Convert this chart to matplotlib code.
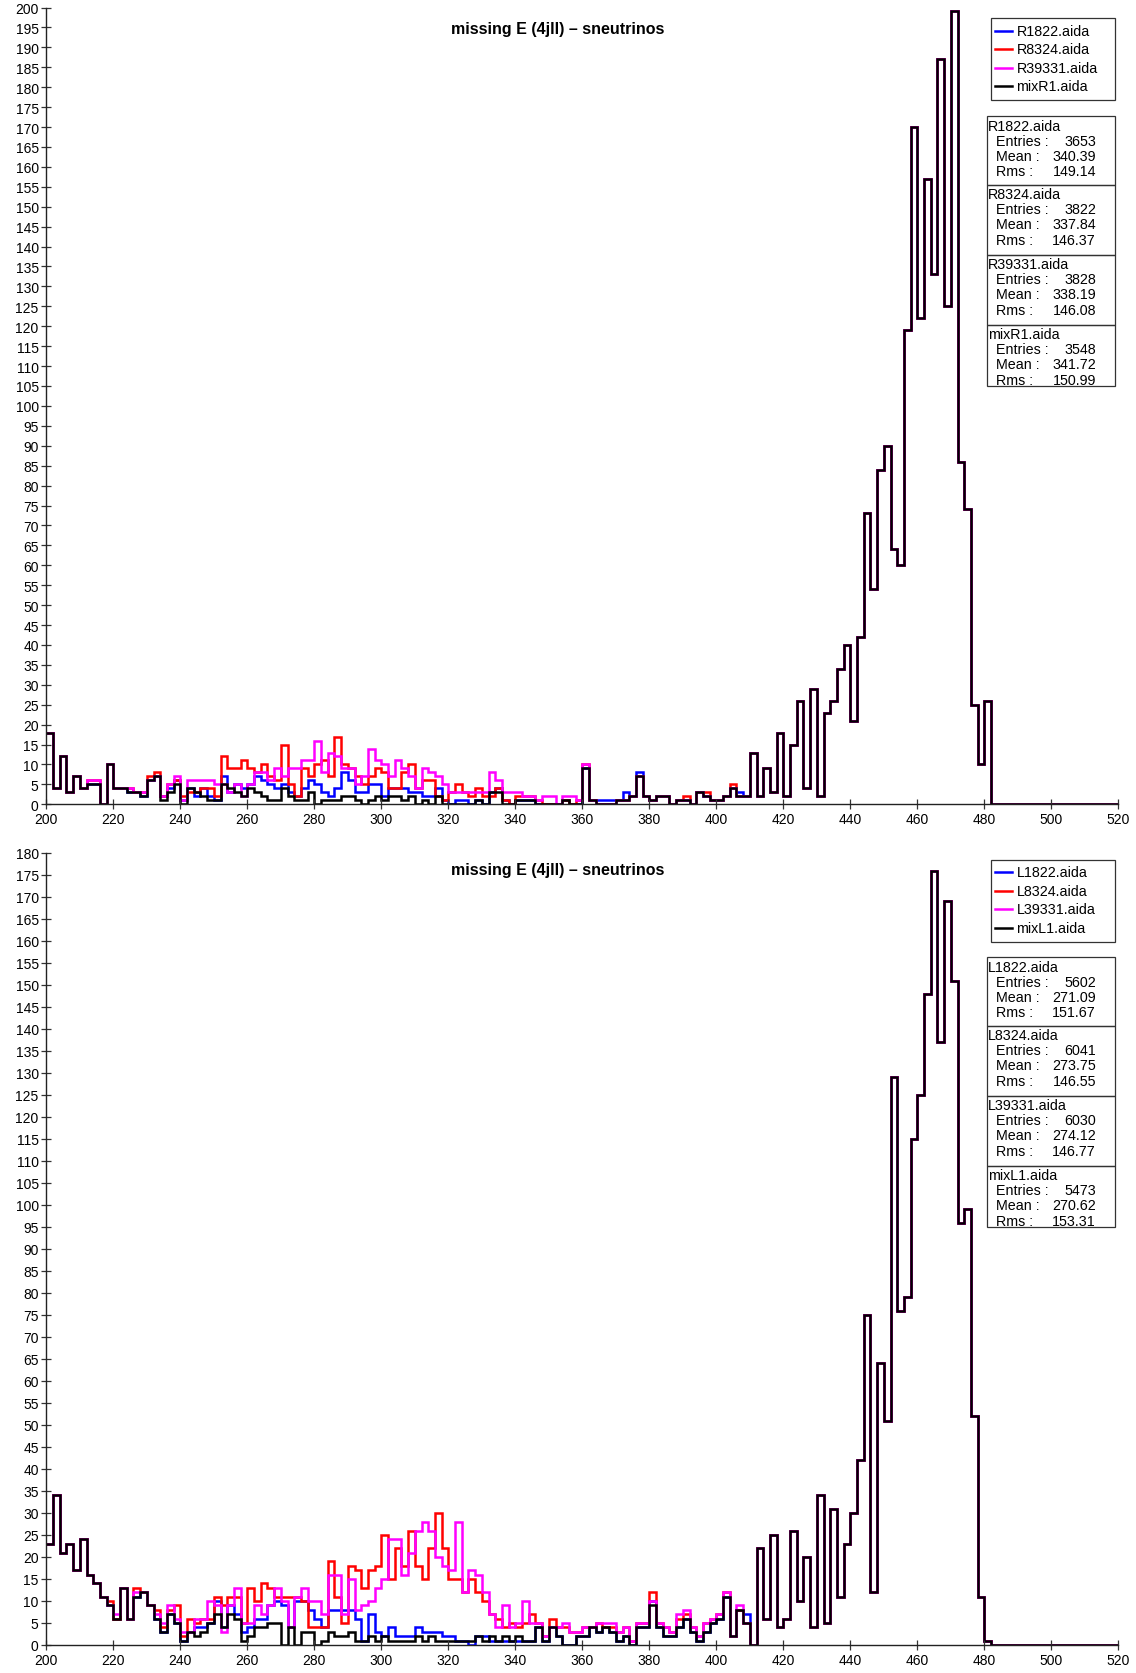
import matplotlib
matplotlib.use("Agg")
import numpy as np
import matplotlib.pyplot as plt
from matplotlib.patches import Rectangle
from matplotlib.lines import Line2D

plt.rcParams["font.family"] = ["Liberation Sans", "DejaVu Sans"]

BIN_EDGES = np.arange(200, 522, 2)  # 2-unit bins from 200 to 520
ZERO_TAIL = [0] * 19                # bins 482..520 are empty

# ---------------- top panel (R samples), bins 200..408 ----------------
top_black = [18, 4, 12, 3, 7, 4, 5, 5, 0, 10, 4, 4, 3, 3, 2, 6, 7, 1, 3, 5,
             0, 4, 3, 2, 1, 1, 5, 4, 3, 2, 4, 3, 2, 1, 1, 4, 2, 1, 1, 3,
             0, 1, 1, 1, 2, 2, 1, 0, 1, 2, 1, 2, 2, 1, 2, 0, 1, 0, 2, 0,
             0, 0, 0, 0, 1, 0, 3, 3, 0, 0, 1, 1, 1, 0, 0, 0, 0, 1, 0, 0,
             9, 1, 0, 0, 0, 1, 1, 2, 7, 2, 1, 2, 2, 0, 1, 1, 0, 3, 2, 1,
             1, 2, 4, 2, 2]
top_blue = [18, 4, 12, 3, 7, 4, 5, 5, 0, 10, 4, 4, 3, 3, 2, 6, 7, 2, 4, 6,
            1, 4, 2, 4, 2, 1, 7, 3, 5, 4, 5, 7, 6, 5, 4, 5, 3, 2, 4, 6,
            5, 3, 2, 4, 8, 6, 3, 3, 5, 5, 2, 4, 4, 4, 3, 3, 2, 2, 4, 1,
            0, 1, 1, 0, 1, 0, 3, 4, 1, 0, 1, 1, 1, 0, 0, 0, 0, 1, 0, 0,
            9, 1, 1, 1, 1, 1, 3, 2, 8, 2, 1, 2, 2, 0, 1, 1, 0, 3, 2, 1,
            1, 2, 4, 3, 2]
top_red = [18, 4, 12, 3, 7, 4, 6, 6, 0, 10, 4, 4, 4, 3, 3, 7, 8, 2, 5, 6,
           2, 3, 3, 4, 4, 2, 12, 9, 9, 11, 9, 8, 10, 7, 6, 15, 5, 2, 9, 7,
           10, 11, 7, 17, 10, 9, 7, 5, 7, 9, 8, 4, 4, 8, 10, 4, 6, 6, 2, 1,
           3, 5, 3, 2, 4, 2, 2, 4, 1, 0, 2, 2, 2, 1, 0, 0, 0, 1, 0, 1,
           10, 1, 0, 0, 0, 1, 1, 2, 7, 2, 1, 2, 2, 0, 1, 2, 0, 3, 3, 1,
           1, 2, 5, 2, 2]
top_magenta = [18, 4, 12, 3, 7, 4, 6, 6, 0, 10, 4, 4, 4, 3, 3, 6, 7, 2, 5, 7,
               1, 6, 6, 6, 6, 5, 5, 3, 5, 2, 5, 8, 8, 6, 9, 7, 9, 9, 11, 11,
               16, 8, 13, 12, 9, 9, 5, 7, 14, 11, 10, 7, 11, 9, 7, 4, 9, 8, 7, 5,
               3, 3, 3, 3, 3, 3, 8, 6, 3, 3, 3, 2, 2, 1, 2, 2, 0, 2, 2, 1,
               10, 1, 0, 0, 0, 1, 1, 2, 7, 2, 1, 2, 2, 0, 1, 1, 0, 3, 2, 1,
               1, 2, 4, 2, 2]
# shared peak, bins 410..480
top_peak = [13, 2, 9, 3, 18, 2, 15, 26, 4, 29, 2, 23, 26, 34, 40, 21, 42, 73,
            54, 84, 90, 64, 60, 119, 170, 122, 157, 133, 187, 125, 199, 86, 74,
            25, 10, 26]

# ---------------- bottom panel (L samples), bins 200..408 ----------------
bot_black = [23, 34, 21, 23, 17, 24, 16, 14, 11, 9, 6, 13, 6, 11, 12, 9, 6, 3, 7, 5,
             1, 3, 2, 3, 5, 7, 4, 7, 6, 1, 2, 4, 4, 5, 5, 0, 4, 0, 3, 3,
             0, 1, 3, 2, 2, 3, 1, 1, 2, 1, 2, 1, 1, 1, 1, 2, 1, 2, 1, 1,
             1, 1, 1, 1, 2, 1, 2, 1, 2, 1, 2, 1, 1, 4, 1, 4, 2, 0, 0, 2,
             2, 4, 3, 4, 3, 1, 2, 0, 4, 4, 9, 4, 2, 2, 4, 6, 3, 1, 3, 5,
             6, 11, 2, 8, 5]
bot_blue = [23, 34, 21, 23, 17, 24, 16, 14, 11, 9, 6, 13, 6, 11, 12, 9, 6, 3, 7, 5,
            1, 3, 4, 4, 5, 10, 4, 9, 7, 3, 4, 6, 6, 9, 10, 9, 4, 10, 10, 8,
            6, 4, 8, 8, 8, 8, 6, 1, 7, 3, 2, 4, 2, 2, 2, 4, 3, 3, 3, 2,
            2, 1, 1, 0, 2, 2, 1, 1, 1, 1, 1, 1, 1, 4, 1, 4, 2, 0, 0, 2,
            2, 4, 3, 4, 3, 1, 2, 0, 4, 4, 10, 4, 2, 2, 4, 6, 3, 1, 3, 5,
            6, 11, 2, 8, 7]
bot_red = [23, 34, 21, 23, 17, 24, 16, 14, 11, 10, 6, 13, 6, 13, 12, 9, 8, 4, 8, 9,
           2, 6, 5, 6, 6, 11, 9, 11, 11, 5, 13, 10, 14, 13, 11, 11, 11, 11, 10, 4,
           4, 4, 19, 11, 5, 18, 17, 13, 17, 18, 25, 15, 22, 18, 26, 18, 15, 22, 30, 22,
           15, 15, 12, 15, 12, 10, 7, 6, 4, 5, 4, 5, 7, 5, 2, 6, 4, 4, 3, 3,
           4, 4, 5, 4, 4, 3, 4, 1, 5, 5, 12, 5, 4, 3, 6, 7, 4, 2, 5, 6,
           7, 12, 2, 8, 5]
bot_magenta = [23, 34, 21, 23, 17, 24, 16, 14, 11, 9, 7, 13, 6, 12, 12, 9, 7, 5, 9, 6,
               3, 3, 6, 6, 10, 9, 3, 9, 13, 5, 5, 9, 7, 9, 13, 10, 4, 11, 13, 10,
               10, 7, 16, 16, 7, 15, 8, 9, 10, 13, 15, 24, 24, 16, 21, 26, 28, 26, 20, 18,
               17, 28, 12, 17, 16, 12, 7, 4, 9, 4, 5, 10, 5, 5, 2, 4, 4, 5, 3, 3,
               4, 4, 5, 5, 5, 3, 4, 1, 5, 5, 10, 5, 4, 3, 7, 8, 4, 2, 5, 6,
               7, 12, 2, 9, 5]
bot_peak = [0, 22, 6, 25, 4, 6, 26, 10, 20, 4, 34, 5, 31, 11, 23, 30, 42, 75,
            12, 64, 51, 129, 76, 79, 115, 125, 148, 176, 137, 169, 151, 96, 99,
            52, 11, 1]

TITLE = "missing E (4jll) \u2013 sneutrinos"
SERIES_COLORS = ["#0000ff", "#ff0000", "#ff00ff", "#000000"]
top_names = ["R1822.aida", "R8324.aida", "R39331.aida", "mixR1.aida"]
top_entries = ["3653", "3822", "3828", "3548"]
top_means = ["340.39", "337.84", "338.19", "341.72"]
top_rms = ["149.14", "146.37", "146.08", "150.99"]
bot_names = ["L1822.aida", "L8324.aida", "L39331.aida", "mixL1.aida"]
bot_entries = ["5602", "6041", "6030", "5473"]
bot_means = ["271.09", "273.75", "274.12", "270.62"]
bot_rms = ["151.67", "146.55", "146.77", "153.31"]

W, H = 1136, 1674
BOX_FS = 10.3
fig = plt.figure(figsize=(W / 100, H / 100), dpi=100)


def px(x, y):
    """pixel (from top-left) -> inches for fig.dpi_scale_trans"""
    return x / 100.0, (H - y) / 100.0


def draw_panel(rect, series, peak, ymax, title_y, legend_top, stats_top,
               names, entries, means, rms):
    ax = fig.add_axes(rect)
    for low, color in zip(series, SERIES_COLORS):
        counts = np.array(low + peak + ZERO_TAIL, dtype=float)
        ax.stairs(counts, BIN_EDGES, baseline=None, color=color, lw=1.8)
    ax.set_xlim(200, 520)
    ax.set_ylim(0, ymax)
    ax.set_xticks(np.arange(200, 521, 20))
    ax.set_yticks(np.arange(0, ymax + 1, 5))
    for s in ("top", "right"):
        ax.spines[s].set_visible(False)
    for s in ("left", "bottom"):
        ax.spines[s].set_linewidth(1.0)
        ax.spines[s].set_color("#222222")
    ax.tick_params(direction="inout", length=7, width=0.9, color="#333333",
                   labelsize=10, pad=2)
    ax.patch.set_visible(False)

    tr = fig.dpi_scale_trans
    fig.text(*px(558, title_y), TITLE, transform=tr, ha="center", va="center",
             fontsize=11.5, fontweight="bold")

    # legend box
    lx0, lx1 = 991, 1114.5
    lh = 81.5
    fig.add_artist(Rectangle(px(lx0, legend_top + lh), (lx1 - lx0) / 100, lh / 100,
                             transform=tr, fill=False, lw=0.9, ec="#333333"))
    for i, (nm, c) in enumerate(zip(names, SERIES_COLORS)):
        yy = legend_top + 12.5 + 18.4 * i
        x0, y0 = px(995, yy)
        x1, _ = px(1012, yy)
        fig.add_artist(Line2D([x0, x1], [y0, y0], transform=tr, color=c, lw=1.8))
        fig.text(*px(1016.5, yy), nm, transform=tr, ha="left", va="center",
                 fontsize=BOX_FS)

    # stats boxes
    sx0, sx1 = 987, 1114.5
    heights = [68.4, 70, 70, 61.6]
    top = stats_top
    for nm, en, mn, rm, h in zip(names, entries, means, rms, heights):
        fig.add_artist(Rectangle(px(sx0, top + h), (sx1 - sx0) / 100, h / 100,
                                 transform=tr, fill=False, lw=0.9, ec="#333333"))
        fig.text(*px(988, top + 9.5), nm, transform=tr, ha="left", va="center",
                 fontsize=BOX_FS)
        for j, (lab, val) in enumerate((("Entries :", en), ("Mean :", mn),
                                        ("Rms :", rm))):
            yy = top + 24.5 + 15.2 * j
            fig.text(*px(996, yy), lab, transform=tr, ha="left", va="center",
                     fontsize=BOX_FS)
            fig.text(*px(1096, yy), val, transform=tr, ha="right", va="center",
                     fontsize=BOX_FS)
        top += h
    return ax


left = 46.3 / W
width = 1072 / W
draw_panel([left, 1 - 805.3 / H, width, 796.8 / H],
           [top_blue, top_red, top_magenta, top_black], top_peak, 200,
           30, 19.3, 117.3, top_names, top_entries, top_means, top_rms)
draw_panel([left, 1 - 1646 / H, width, 792 / H],
           [bot_blue, bot_red, bot_magenta, bot_black], bot_peak, 180,
           871, 861, 958.3, bot_names, bot_entries, bot_means, bot_rms)

fig.savefig("out.png", dpi=100)
